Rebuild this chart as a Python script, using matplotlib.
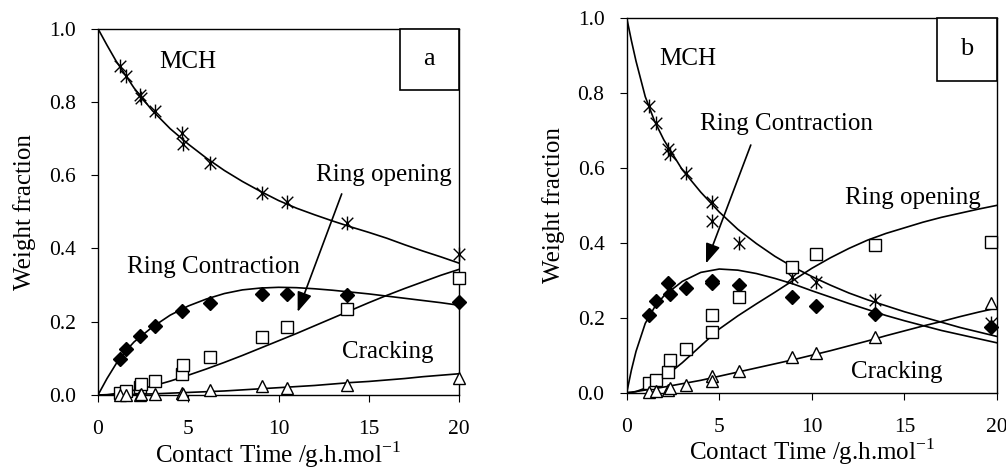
import numpy as np
import matplotlib
matplotlib.use("Agg")
import matplotlib.pyplot as plt
from matplotlib.path import Path
from matplotlib.patches import Rectangle

plt.rcParams['font.family'] = ['Liberation Serif', 'DejaVu Serif']

# ---------------- panel a : measured points ----------------
a_x_mch = [1.2, 1.55, 2.3, 2.4, 3.15, 4.65, 4.7, 6.2, 9.1, 10.45, 13.8, 20.0]
a_mch = [0.898, 0.871, 0.819, 0.81, 0.775, 0.716, 0.685, 0.633, 0.551, 0.528, 0.469, 0.385]
a_x_rc = [1.2, 1.55, 2.3, 3.15, 4.65, 6.2, 9.1, 10.45, 13.8, 20.0]
a_rc = [0.097, 0.126, 0.161, 0.188, 0.229, 0.252, 0.275, 0.275, 0.272, 0.255]
a_x_ro = [1.2, 1.55, 2.3, 2.4, 3.15, 4.65, 4.7, 6.2, 9.1, 10.45, 13.8, 20.0]
a_ro = [0.006, 0.011, 0.023, 0.03, 0.038, 0.057, 0.082, 0.105, 0.159, 0.185, 0.234, 0.32]
a_x_cr = [1.2, 1.55, 2.3, 2.4, 3.15, 4.65, 4.7, 6.2, 9.1, 10.45, 13.8, 20.0]
a_cr = [0.0, 0.0, 0.0, 0.002, 0.003, 0.005, 0.003, 0.014, 0.025, 0.018, 0.027, 0.047]

# panel a : model curves
a_cx = [0, 0.5, 1, 1.5, 2, 3, 4, 5, 6, 7, 8, 9, 10, 11, 12, 13, 14, 15, 16, 17, 18, 19, 20]
a_cmch = [1.0, 0.955, 0.912, 0.875, 0.838, 0.777, 0.727, 0.685, 0.647, 0.613, 0.583, 0.556, 0.531, 0.51, 0.492, 0.475, 0.459, 0.444, 0.428, 0.41, 0.393, 0.377, 0.36]
a_crc = [0.0, 0.045, 0.085, 0.118, 0.145, 0.185, 0.218, 0.243, 0.262, 0.277, 0.287, 0.292, 0.294, 0.293, 0.29, 0.286, 0.281, 0.276, 0.27, 0.264, 0.258, 0.252, 0.245]
a_cro = [0.0, 0.001, 0.004, 0.008, 0.013, 0.024, 0.038, 0.054, 0.071, 0.089, 0.108, 0.128, 0.148, 0.168, 0.189, 0.21, 0.231, 0.252, 0.272, 0.291, 0.309, 0.327, 0.343]
a_ccr = [0.0, 0.0, 0.001, 0.001, 0.002, 0.003, 0.005, 0.007, 0.009, 0.011, 0.014, 0.017, 0.02, 0.023, 0.026, 0.03, 0.034, 0.037, 0.041, 0.045, 0.05, 0.054, 0.058]

# ---------------- panel b : measured points ----------------
b_x = [1.2, 1.58, 2.25, 2.34, 3.2, 4.59, 4.6, 6.08, 8.95, 10.23, 13.41, 19.7]
b_mch = [0.765, 0.719, 0.65, 0.637, 0.585, 0.51, 0.459, 0.40, 0.31, 0.295, 0.247, 0.185]
b_rc = [0.207, 0.246, 0.292, 0.263, 0.279, 0.299, 0.294, 0.287, 0.256, 0.231, 0.21, 0.176]
b_ro = [0.027, 0.034, 0.056, 0.087, 0.116, 0.207, 0.163, 0.256, 0.335, 0.369, 0.394, 0.403]
b_cr = [0.003, 0.005, 0.007, 0.012, 0.02, 0.045, 0.03, 0.059, 0.096, 0.105, 0.148, 0.24]

# panel b : model curves
b_cx = [0, 0.25, 0.5, 1, 1.5, 2, 3, 4, 5, 6, 7, 8, 9, 10, 11, 12, 13, 14, 15, 16, 17, 18, 19, 20]
b_cmch = [1.0, 0.94, 0.885, 0.79, 0.725, 0.675, 0.595, 0.535, 0.482, 0.436, 0.398, 0.364, 0.335, 0.31, 0.287, 0.266, 0.248, 0.232, 0.216, 0.202, 0.188, 0.174, 0.162, 0.15]
b_crc = [0.0, 0.06, 0.11, 0.185, 0.228, 0.258, 0.297, 0.321, 0.33, 0.327, 0.318, 0.305, 0.29, 0.272, 0.255, 0.238, 0.222, 0.206, 0.192, 0.179, 0.166, 0.155, 0.144, 0.133]
b_cro = [0.0, 0.001, 0.003, 0.012, 0.025, 0.04, 0.08, 0.125, 0.17, 0.205, 0.237, 0.268, 0.3, 0.332, 0.36, 0.385, 0.407, 0.425, 0.44, 0.455, 0.468, 0.479, 0.49, 0.5]
b_ccr = [0.0, 0.001, 0.003, 0.007, 0.011, 0.015, 0.024, 0.033, 0.044, 0.055, 0.066, 0.077, 0.088, 0.1, 0.112, 0.125, 0.138, 0.152, 0.165, 0.178, 0.19, 0.203, 0.215, 0.226]

xticks = [0, 5, 10, 15, 20]
yticks = [0.0, 0.2, 0.4, 0.6, 0.8, 1.0]

# star marker (X with a vertical bar, Excel style)
star = Path([(-1, -1), (1, 1), (-1, 1), (1, -1), (0, -1.2), (0, 1.2)],
            [Path.MOVETO, Path.LINETO, Path.MOVETO, Path.LINETO, Path.MOVETO, Path.LINETO])

fig = plt.figure(figsize=(10.06, 4.73), dpi=100)
axa = fig.add_axes([0.0974, 0.1649, 0.3589, 0.7744])
axb = fig.add_axes([0.6230, 0.1698, 0.3681, 0.7922])

arrow_style = dict(arrowstyle='-|>,head_length=1.2,head_width=0.45', color='black', lw=1.2,
                   shrinkA=0, shrinkB=0)


def style(ax, letter):
    ax.set_xlim(0, 20)
    ax.set_ylim(0, 1)
    ax.set_xticks(xticks)
    ax.set_yticks(yticks)
    ax.set_yticklabels(['%.1f' % v for v in yticks])
    ax.tick_params(direction='out', length=5, width=0.8, labelsize=15.5)
    ax.tick_params(axis='x', pad=13)
    ax.tick_params(axis='y', pad=11)
    for s in ax.spines.values():
        s.set_linewidth(1.0)
    ax.set_xlabel('Contact Time /g.h.mol$^{\\mathregular{-1}}$', fontsize=18, labelpad=0)
    ax.set_ylabel('Weight fraction', fontsize=18, labelpad=9)
    # letter box in the upper right corner
    ax.add_patch(Rectangle((0.837, 0.833), 0.163, 0.167, transform=ax.transAxes,
                           fc='white', ec='black', lw=1.2, zorder=4, clip_on=False))
    ax.text(0.918, 0.917, letter, transform=ax.transAxes, ha='center', va='center',
            fontsize=19, zorder=5)


def draw(ax, cx, c1, c2, c3, c4):
    for c in (c1, c2, c3, c4):
        ax.plot(cx, c, color='black', lw=1.2, zorder=2)


def pts(ax, x, y, marker, ms, filled):
    ax.plot(x, y, ls='none', marker=marker, ms=ms, mec='black', mew=1.0,
            mfc='black' if filled else 'white', clip_on=False, zorder=3)


# panel a
draw(axa, a_cx, a_cmch, a_crc, a_cro, a_ccr)
pts(axa, a_x_mch, a_mch, star, 10, False)
pts(axa, a_x_rc, a_rc, 'D', 7, True)
pts(axa, a_x_ro, a_ro, 's', 8.5, False)
pts(axa, a_x_cr, a_cr, '^', 8.5, False)
axa.text(3.4, 0.91, 'MCH', fontsize=18, va='center')
axa.text(12.1, 0.60, 'Ring opening', fontsize=18, va='center')
axa.text(1.6, 0.35, 'Ring Contraction', fontsize=18, va='center')
axa.text(13.5, 0.117, 'Cracking', fontsize=18, va='center')
axa.annotate('', xy=(11.06, 0.227), xytext=(13.5, 0.549), arrowprops=arrow_style)
style(axa, 'a')

# panel b
draw(axb, b_cx, b_cmch, b_crc, b_cro, b_ccr)
pts(axb, b_x, b_mch, star, 10, False)
pts(axb, b_x, b_rc, 'D', 7, True)
pts(axb, b_x, b_ro, 's', 8.5, False)
pts(axb, b_x, b_cr, '^', 8.5, False)
axb.text(1.76, 0.89, 'MCH', fontsize=18, va='center')
axb.text(3.93, 0.717, 'Ring Contraction', fontsize=18, va='center')
axb.text(11.8, 0.519, 'Ring opening', fontsize=18, va='center')
axb.text(12.1, 0.056, 'Cracking', fontsize=18, va='center')
axb.annotate('', xy=(4.28, 0.345), xytext=(6.7, 0.661), arrowprops=arrow_style)
style(axb, 'b')

fig.savefig('out.png', dpi=100)
